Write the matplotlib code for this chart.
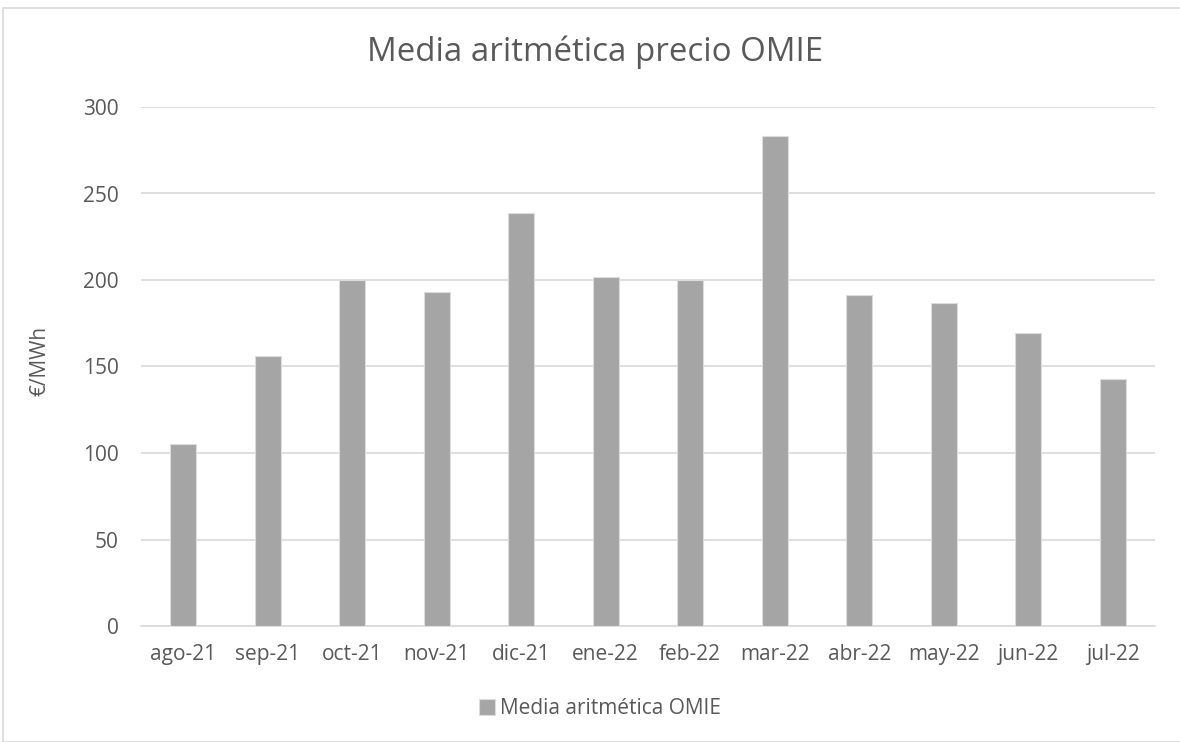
import numpy as np
import matplotlib.pyplot as plt
from matplotlib.patches import Rectangle

meses = ['ago-21', 'sep-21', 'oct-21', 'nov-21', 'dic-21', 'ene-22',
         'feb-22', 'mar-22', 'abr-22', 'may-22', 'jun-22', 'jul-22']
precio_omie = [105.4, 155.8, 199.8, 193.2, 239.0, 201.5,
               200.0, 283.2, 191.3, 186.7, 169.3, 142.5]
y_ticks = [0, 50, 100, 150, 200, 250, 300]

plt.rcParams['font.family'] = ['Open Sans', 'DejaVu Sans']
text_color = '#595959'
bar_color = '#A5A5A5'
grid_color = '#D9D9D9'

W, H = 1180, 742
fig = plt.figure(figsize=(W / 100, H / 100), dpi=100)

# borde del area del grafico
fig.patches.append(Rectangle((3 / W, 0), 1.0, 1 - 8 / H, transform=fig.transFigure,
                             fill=False, edgecolor=grid_color, linewidth=1.2))

left, right = 141 / W, 1155 / W
bottom, top = 1 - 626 / H, 1 - 107 / H
ax = fig.add_axes([left, bottom, right - left, top - bottom])

x = np.arange(len(meses))
ax.bar(x, precio_omie, width=0.31, color=bar_color, edgecolor='#DCDCDC',
       linewidth=0.8, label='Media aritmética OMIE', zorder=3)

ax.set_xlim(-0.5, len(meses) - 0.5)
ax.set_ylim(0, 300)
ax.set_yticks(y_ticks)
ax.set_xticks(x)
ax.set_xticklabels(meses)
ax.yaxis.grid(True, color=grid_color, linewidth=1.2, zorder=0)
ax.tick_params(axis='both', length=0, labelsize=15, colors=text_color)
ax.tick_params(axis='x', pad=13)
ax.tick_params(axis='y', pad=16)
for s in ['top', 'right', 'left']:
    ax.spines[s].set_visible(False)
ax.spines['bottom'].set_color(grid_color)
ax.spines['bottom'].set_linewidth(1.2)

ax.set_ylabel('€/MWh', fontsize=15, color=text_color)
ax.yaxis.set_label_coords((50 - 141) / 1014, (626 - 361) / 519)

fig.text(595 / W, 1 - 52 / H, 'Media aritmética precio OMIE', ha='center', va='center',
         fontsize=23.8, color=text_color)

fig.legend(loc='center', bbox_to_anchor=(600 / W, 1 - 709 / H), frameon=False,
           fontsize=15, labelcolor=text_color, handlelength=0.8, handleheight=0.8,
           handletextpad=0.25)

fig.savefig('out.png', dpi=100)
